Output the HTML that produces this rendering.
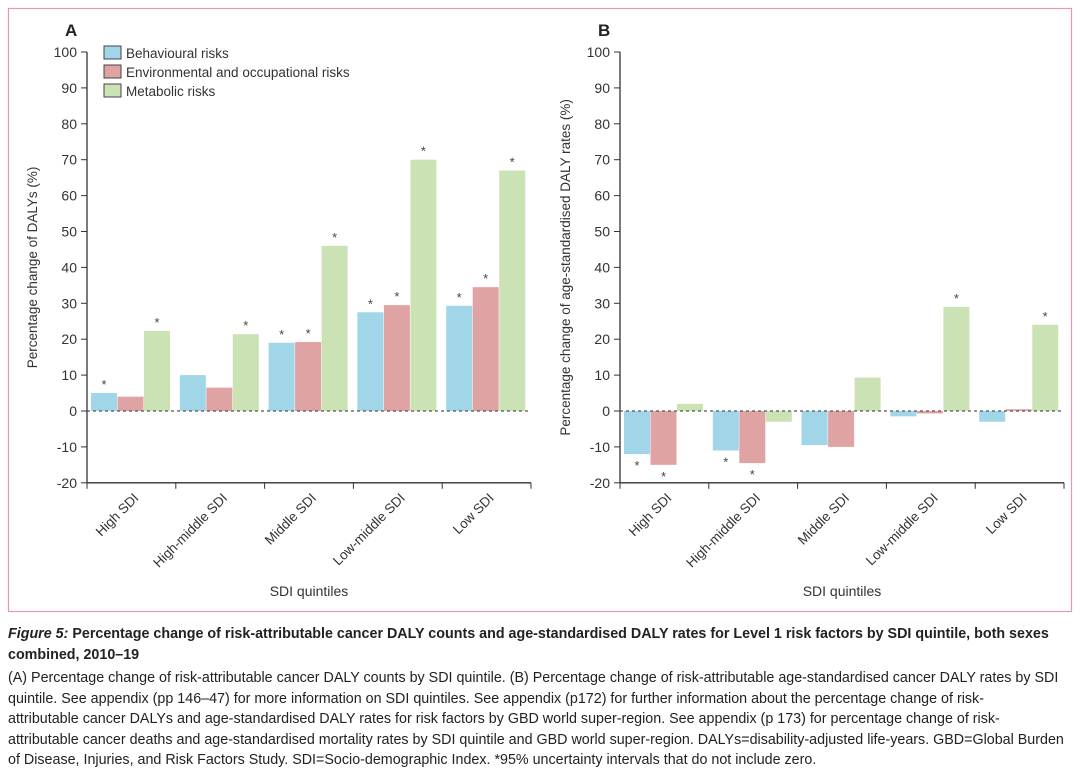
<!DOCTYPE html>
<html><head><meta charset="utf-8"><style>
body{margin:0;background:#fff;width:1080px;height:771px;overflow:hidden;font-family:"Liberation Sans",sans-serif}
#cap{position:absolute;left:8px;top:624px;width:1072px;font-size:14.3px;line-height:20.5px;color:#222;white-space:nowrap}
#cap .h{margin-bottom:3px}
</style></head><body>
<svg id="chart" width="1080" height="620" style="position:absolute;left:0;top:0" font-family="Liberation Sans, sans-serif"></svg>
<div id="cap"><div class="h"><b><i>Figure 5:</i> Percentage change of risk-attributable cancer DALY counts and age-standardised DALY rates for Level 1 risk factors by SDI quintile, both sexes<br>combined, 2010–19</b></div>(A) Percentage change of risk-attributable cancer DALY counts by SDI quintile. (B) Percentage change of risk-attributable age-standardised cancer DALY rates by SDI<br>quintile. See appendix (pp 146–47) for more information on SDI quintiles. See appendix (p172) for further information about the percentage change of risk-<br>attributable cancer DALYs and age-standardised DALY rates for risk factors by GBD world super-region. See appendix (p 173) for percentage change of risk-<br>attributable cancer deaths and age-standardised mortality rates by SDI quintile and GBD world super-region. DALYs=disability-adjusted life-years. GBD=Global Burden<br>of Disease, Injuries, and Risk Factors Study. SDI=Socio-demographic Index. *95% uncertainty intervals that do not include zero.</div>
<script>
const categories=["High SDI","High-middle SDI","Middle SDI","Low-middle SDI","Low SDI"];
const seriesNames=["Behavioural risks","Environmental and occupational risks","Metabolic risks"];
const aBehav=[5,10,19,27.5,29.3];
const aEnv=[4,6.5,19.2,29.5,34.5];
const aMeta=[22.3,21.4,46,70,67];
const aSig=[[1,0,1],[0,0,1],[1,1,1],[1,1,1],[1,1,1]];
const bBehav=[-12,-11,-9.5,-1.5,-3];
const bEnv=[-15,-14.5,-10,-0.7,0.5];
const bMeta=[2,-3,9.3,29,24];
const bSig=[[1,1,0],[1,1,0],[0,0,0],[0,0,1],[0,0,1]];
const yTicks=[-20,-10,0,10,20,30,40,50,60,70,80,90,100];
const colors=["#a0d6e8","#e0a3a3","#cbe2b5"];
const NS="http://www.w3.org/2000/svg";
const svg=document.getElementById('chart');
function mk(t,a,txt,p){const e=document.createElementNS(NS,t);for(const k in a)e.setAttribute(k,a[k]);if(txt!=null)e.textContent=txt;(p||svg).appendChild(e);return e;}
const border=mk('rect',{x:8.5,y:8.5,width:1063,height:603,fill:'none',stroke:'#e39ab5','stroke-width':1.2});

function panel(x0,letter,ytitle,series,sig,legend){
  const y=v=>411-v*3.59;const gw=88.8;const x=i=>x0+i*gw;
  const g=mk('g',{});
  mk('text',{x:x0-22,y:36,'font-size':17,'font-weight':'bold',fill:'#222'},letter,g);
  mk('line',{x1:x0,y1:y(100),x2:x0,y2:y(-20),stroke:'#333','stroke-width':1.3},g);
  mk('line',{x1:x0,y1:y(-20),x2:x(5),y2:y(-20),stroke:'#333','stroke-width':1.3},g);
  yTicks.forEach(t=>{mk('line',{x1:x0-6,y1:y(t),x2:x0,y2:y(t),stroke:'#333'},g);
    const tl=mk('text',{x:x0-10,y:y(t)+5,'font-size':14,'text-anchor':'end',fill:'#333'},t,g);
    });
  const yt=mk('text',{transform:`translate(${x0-50},${y(40)}) rotate(-90)`,'font-size':13.5,'text-anchor':'middle',fill:'#333'},ytitle,g);
  
  for(let i=0;i<=5;i++)mk('line',{x1:x(i),y1:y(-20),x2:x(i),y2:y(-20)+6,stroke:'#333'},g);
  categories.forEach((c,i)=>{
    series.forEach((s,j)=>{const v=s[i];const bx=x(i)+4+j*26.5;
      const r=mk('rect',{x:bx,y:Math.min(y(v),y(0)),width:26,height:Math.max(Math.abs(y(v)-y(0)),0.8),fill:colors[j]},g);
      
      if(sig[i][j]){const sy=v>=0?y(v)-4:y(v)+16;mk('text',{x:bx+13,y:sy,'font-size':13,'text-anchor':'middle',fill:'#444'},'*',g);}
    });
    const cx=x(i)+gw/2+8,cy=y(-20)+16;
    const cl=mk('text',{transform:`translate(${cx},${cy}) rotate(-45)`,'font-size':13.5,'text-anchor':'end',fill:'#333'},c,g);
    
  });
  mk('line',{x1:x0,y1:y(0),x2:x(5),y2:y(0),stroke:'#555','stroke-width':1.3,'stroke-dasharray':'3,3'},g);
  const xt=mk('text',{x:x(2.5),y:596,'font-size':14,'text-anchor':'middle',fill:'#333'},'SDI quintiles',g);
  
  if(legend){seriesNames.forEach((n,j)=>{const ly=46+j*19;
    const le=mk('g',{},null,g);
    mk('rect',{x:104,y:ly,width:17,height:13,fill:colors[j],stroke:'#444','stroke-width':1},le);
    mk('text',{x:126,y:ly+12,'font-size':13.5,fill:'#333'},n,le);});}
}
panel(87,'A','Percentage change of DALYs (%)',[aBehav,aEnv,aMeta],aSig,true);
panel(620,'B','Percentage change of age-standardised DALY rates (%)',[bBehav,bEnv,bMeta],bSig,false);
</script>
</body></html>
